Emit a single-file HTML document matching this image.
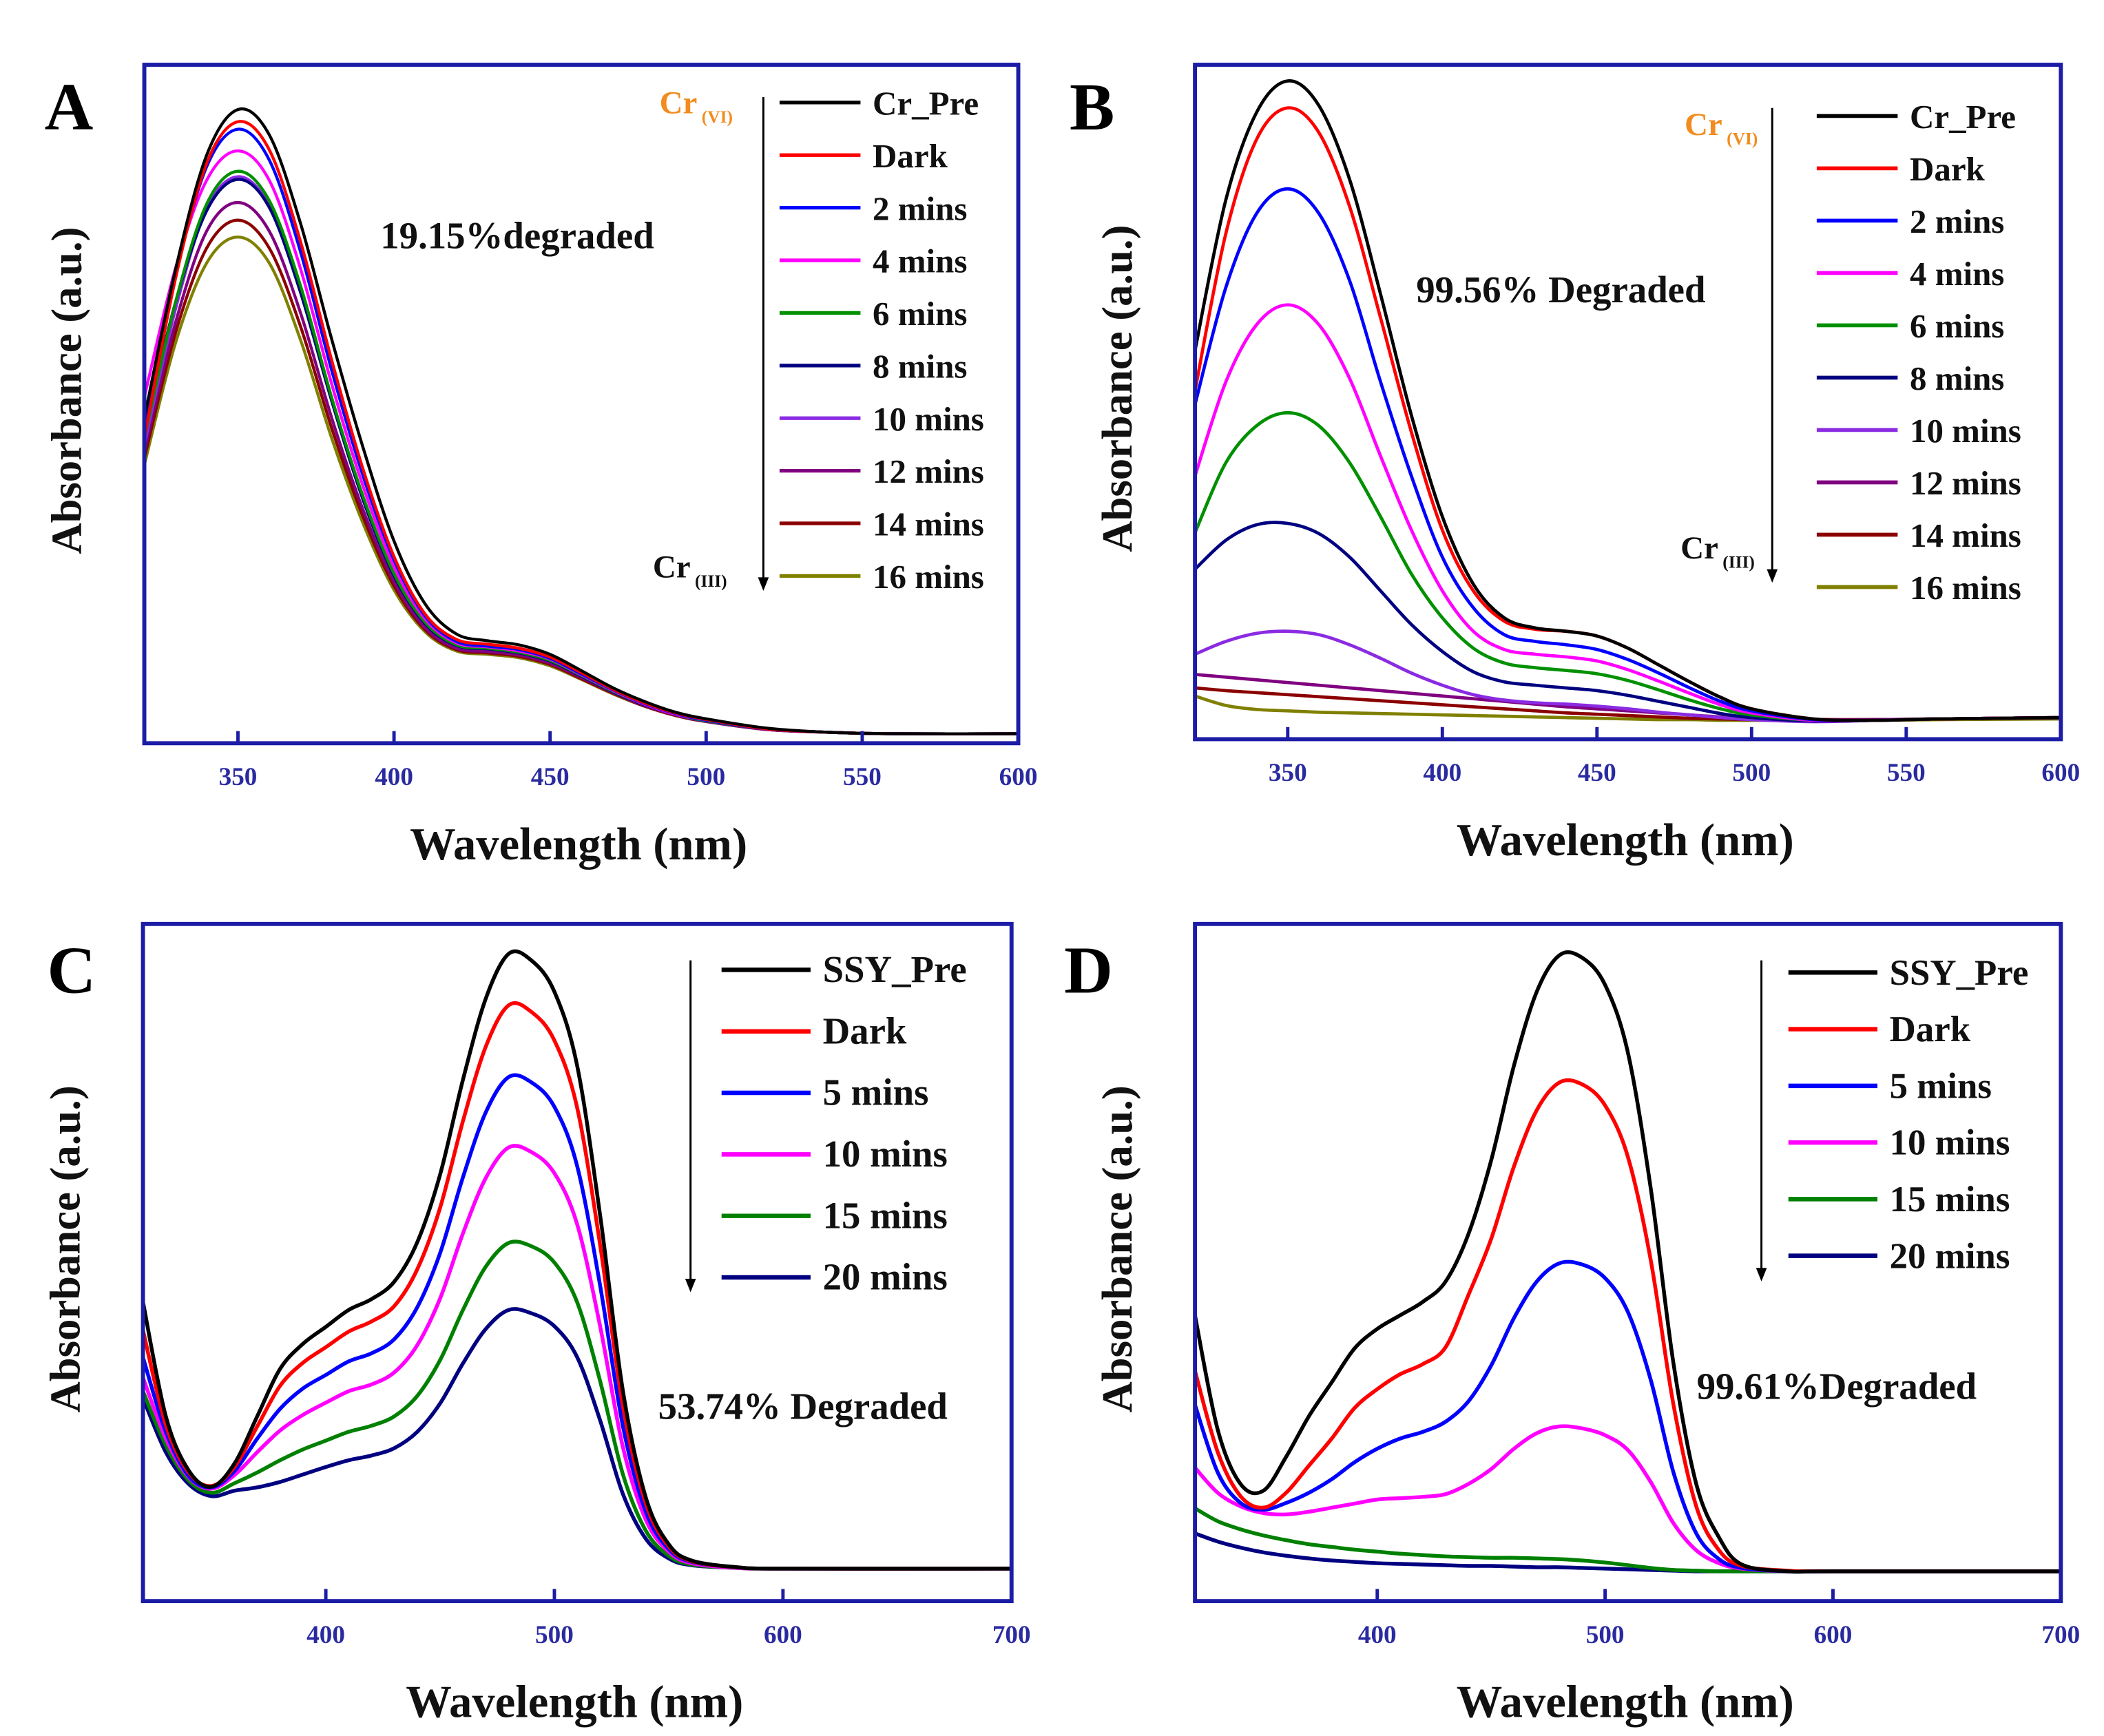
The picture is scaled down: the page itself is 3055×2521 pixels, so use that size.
<!DOCTYPE html>
<html><head><meta charset="utf-8"><style>
html,body{margin:0;padding:0;background:#fff;}
svg{display:block;}
text{font-family:"Liberation Serif",serif;font-weight:bold;}
</style></head><body>
<svg id="fig" width="3055" height="2521" viewBox="0 0 1560 1287" preserveAspectRatio="none" xmlns="http://www.w3.org/2000/svg">
<rect x="0" y="0" width="1560" height="1287" fill="#fff"/>
</svg>
<script>
// ---------- data ----------
const wlAB = [320,330,340,350,360,370,380,390,400,410,420,430,440,450,460,470,480,490,500,520,540,560,600];
const wlCD = [320,330,340,350,360,370,380,390,400,410,420,430,440,450,460,470,480,490,500,510,520,530,540,550,560,580,600,700];
const xTicksAB = [350,400,450,500,550,600];
const xTicksCD = [400,500,600,700];
const labelsAB = ["Cr_Pre","Dark","2 mins","4 mins","6 mins","8 mins","10 mins","12 mins","14 mins","16 mins"];
const labelsCD = ["SSY_Pre","Dark","5 mins","10 mins","15 mins","20 mins"];
const colorsAB = ["#000000","#ff0000","#0000ff","#ff00ff","#009000","#000080","#8a2be2","#800080","#8b0000","#808000"];
const colorsCD = ["#000000","#ff0000","#0000ff","#ff00ff","#008000","#000080"];

const seriesA = [
[47.9,69.8,86.7,93.4,89.7,76.7,59.6,43.7,29.8,20.5,16.1,15.1,14.5,13.1,10.7,8.2,6.2,4.6,3.6,2.2,1.6,1.4,1.4],
[45,68.5,85.5,91.6,87.5,74,56.5,40.5,27.5,19,15.3,14.6,14,12.7,10.4,8,6,4.5,3.5,2.1,1.6,1.4,1.4],
[47,69,85,90.5,86,72.5,55,39.5,27,18.7,15,14.3,13.8,12.5,10.2,7.9,5.9,4.4,3.4,2.1,1.6,1.4,1.4],
[51,70,83,87.3,83,70,53,38,26,18.3,14.8,14.2,13.6,12.4,10.1,7.8,5.8,4.3,3.4,2.1,1.6,1.4,1.4],
[45,65,79.5,84.3,80,67.5,51,36.5,25,17.8,14.5,14,13.4,12.2,10,7.7,5.8,4.3,3.3,2.1,1.6,1.4,1.4],
[46,65,78.5,83.1,79,66.5,50.5,36,24.7,17.6,14.4,13.9,13.3,12.1,9.9,7.6,5.7,4.3,3.3,2.1,1.6,1.4,1.4],
[44,64,78.8,83.5,79.3,66.8,50.6,36,24.7,17.6,14.4,13.9,13.4,12.2,10,7.7,5.8,4.3,3.3,2.1,1.6,1.4,1.4],
[43,62,75.5,79.7,75.5,63.5,48,34.5,23.8,17,14,13.5,13,11.8,9.7,7.5,5.6,4.2,3.2,2.0,1.6,1.4,1.4],
[42,60.5,73,77.1,73,61.5,46.5,33.5,23.2,16.7,13.8,13.3,12.8,11.6,9.5,7.4,5.5,4.1,3.2,2.0,1.6,1.4,1.4],
[41,59,70.8,74.6,70.8,59.5,45,32.5,22.6,16.4,13.6,13.1,12.6,11.4,9.4,7.3,5.5,4.1,3.2,2.0,1.6,1.4,1.4]
];
const seriesB = [
[57.6,80,93,97.6,94,83,66,48,33,23,18,16.5,16,15.3,13.5,11,8.5,6.2,4.5,3,2.8,3,3.2],
[51.6,75,89,93.6,90,79,62.5,45.5,31,22,17.5,16.3,16,15.3,13.5,11,8.5,6.2,4.5,3,2.8,3,3.2],
[49.6,67,78,81.6,78,68,53,39,27,19.5,15.5,14.5,14,13.3,11.8,9.8,7.6,5.6,4.2,2.9,2.8,3,3.2],
[39,53,61.5,64.4,61.5,53.5,42,31,22,16,13.3,12.6,12.2,11.6,10.3,8.6,6.8,5.1,3.9,2.8,2.8,3,3.2],
[30.6,41,46.5,48.4,46.5,41,33,24.5,18,13.5,11.3,10.6,10.2,9.7,8.7,7.3,5.8,4.5,3.6,2.8,2.8,3,3.2],
[25.2,29.5,31.8,32,30.5,27,22,17,13,10,8.5,8,7.6,7.2,6.5,5.6,4.7,3.8,3.2,2.7,2.8,3,3.2],
[12.6,14.5,15.7,16,15.5,14,12,9.8,8,6.6,5.8,5.4,5.2,4.9,4.5,4,3.6,3.2,2.9,2.6,2.8,3,3.2],
[9.6,9.2,8.8,8.4,8,7.6,7.2,6.8,6.4,6,5.6,5.2,4.8,4.5,4.2,3.9,3.6,3.3,3.1,2.9,2.9,3,3.2],
[7.6,7.2,6.9,6.6,6.3,6,5.7,5.4,5.1,4.8,4.5,4.2,3.9,3.7,3.5,3.3,3.1,3,2.9,2.9,2.9,3,3.2],
[6.4,5,4.4,4.2,4,3.9,3.8,3.7,3.6,3.5,3.4,3.3,3.2,3.1,3,2.9,2.9,2.8,2.8,2.8,2.8,2.9,3]
];
const seriesC = [
[44.2,27.3,19.3,16.9,20.3,27.3,34.3,38,40.5,43,44.6,47.2,53,63,77,89,95.6,94.6,90,79,57,31,15.3,8.4,6,5,4.8,4.8],
[40,26,19,17,19.8,25.8,31.8,35.2,37.5,39.8,41.3,43.6,49,58.1,70.9,81.9,88,87,82.8,72.8,52.6,28.8,14.4,8.1,5.9,5,4.8,4.8],
[36,25,18.5,16.8,19.2,24,28.4,31.4,33.4,35.4,36.6,38.7,43.4,51.4,62.6,72.2,77.4,76.6,73,64.2,46.6,25.8,13.2,7.7,5.8,5,4.8,4.8],
[33,24,18.3,16.6,18.6,22,25.2,27.5,29.3,31,32,33.8,37.8,44.7,54.3,62.5,67,66.3,63.2,55.6,40.6,22.7,12,7.3,5.6,4.9,4.8,4.8],
[31,23,17.8,16,17.4,19,20.8,22.4,23.7,25,25.9,27.3,30.3,35.6,43,49.4,52.9,52.4,50,44.1,32.5,18.7,10.4,6.7,5.4,4.9,4.8,4.8],
[30,22,17.3,15.5,16.3,16.8,17.6,18.7,19.8,20.8,21.5,22.6,25,29.2,35.1,40.2,43,42.5,40.6,36,26.7,15.8,9.2,6.3,5.3,4.9,4.8,4.8]
];
const seriesD = [
[42.2,25.3,17.3,16.3,21.3,27.3,32.3,37.3,40.2,42.2,44.2,47.2,54.2,65.1,79.1,90,95.4,95,91,81,61,35.1,17.3,9.4,5.4,4.4,4.4,4.4],
[34,22,15.5,13.8,16,20,24,28.5,31.3,33.5,35,37.5,45.2,53.5,64.2,72.5,76.6,76.3,73.2,65.6,50.4,29,14,7.5,5.2,4.5,4.4,4.4],
[29,19,14.5,13.5,14.5,16,18,20.5,22.5,24,25,26.5,29.5,34.8,41.8,47.2,49.9,49.7,47.7,42.7,32.7,19,10,6.2,4.9,4.4,4.4,4.4],
[19.7,16,14,13,12.8,13.2,13.8,14.4,15,15.2,15.4,15.8,17.3,19.5,22.5,24.8,25.8,25.5,24.5,22.3,17.6,11.5,7.5,5.6,4.8,4.4,4.4,4.4],
[13.7,11.8,10.6,9.7,9,8.4,8,7.6,7.3,7,6.8,6.6,6.5,6.4,6.4,6.3,6.2,6,5.7,5.3,4.9,4.6,4.5,4.4,4.4,4.4,4.4,4.4],
[10,8.8,7.9,7.2,6.7,6.3,6,5.8,5.6,5.5,5.4,5.3,5.2,5.2,5.1,5,5,4.9,4.8,4.7,4.6,4.5,4.4,4.4,4.4,4.4,4.4,4.4]
];

// ---------- drawing ----------
const NS = "http://www.w3.org/2000/svg";
const svg = document.getElementById('fig');
function mk(tag, attrs, parent){
  const e = document.createElementNS(NS, tag);
  for (const k in attrs) e.setAttribute(k, attrs[k]);
  (parent||svg).appendChild(e);
  return e;
}
function smoothPath(pts){
  let d = "M"+pts[0][0].toFixed(2)+","+pts[0][1].toFixed(2);
  for (let i=0;i<pts.length-1;i++){
    const p0=pts[Math.max(0,i-1)], p1=pts[i], p2=pts[i+1], p3=pts[Math.min(pts.length-1,i+2)];
    const c1x=p1[0]+(p2[0]-p0[0])/6, c1y=p1[1]+(p2[1]-p0[1])/6;
    const c2x=p2[0]-(p3[0]-p1[0])/6, c2y=p2[1]-(p3[1]-p1[1])/6;
    d+=" C"+c1x.toFixed(2)+","+c1y.toFixed(2)+" "+c2x.toFixed(2)+","+c2y.toFixed(2)+" "+p2[0].toFixed(2)+","+p2[1].toFixed(2);
  }
  return d;
}
function panel(cfg){
  const g = mk('g',{});
  
  
  const X = v => cfg.x0 + (v-cfg.xmin)/(cfg.xmax-cfg.xmin)*(cfg.x1-cfg.x0);
  const Y = v => cfg.y1 - v/100*(cfg.y1-cfg.y0);
  for (let s=cfg.series.length-1;s>=0;s--){
    const pts = cfg.wl.map((w,i)=>[X(w),Y(cfg.series[s][i])]);
    const p = mk('path',{d:smoothPath(pts),fill:'none',stroke:cfg.colors[s],'stroke-width':cfg.lw,'stroke-linejoin':'round'},g);
    
    
  }
  const fr = mk('rect',{x:cfg.x0,y:cfg.y0,width:cfg.x1-cfg.x0,height:cfg.y1-cfg.y0,fill:'none',stroke:'#1c1ca6','stroke-width':3},g);
  
  
  cfg.ticks.forEach(t=>{
    const tx = X(t);
    const tk = mk('line',{x1:tx,x2:tx,y1:cfg.y1,y2:cfg.y1-9,stroke:'#1c1ca6','stroke-width':2.5},g);
    
    
    const tl = mk('text',{x:tx,y:cfg.y1+31,'text-anchor':'middle','font-size':19,fill:'#2a2aa0'},g);
    tl.textContent = t;
    
    
  });
  const xt = mk('text',{x:(cfg.x0+cfg.x1)/2 - 2,y:cfg.y1+86,'text-anchor':'middle','font-size':34,fill:'#111'},g);
  xt.textContent = 'Wavelength (nm)';
  
  
  const yc = (cfg.y0+cfg.y1)/2 - 10;
  const yt = mk('text',{x:0,y:0,'text-anchor':'middle','font-size':32,fill:'#111',transform:'translate('+(cfg.x0-47)+','+yc+') rotate(-90)'},g);
  yt.textContent = 'Absorbance (a.u.)';
  
  
  const pl = mk('text',{x:cfg.lx,y:cfg.ly,'font-size':50,fill:'#000'},g);
  pl.textContent = cfg.id;
  
  
  cfg.labels.forEach((lab,i)=>{
    const ly = cfg.legY + i*cfg.legDy;
    const ll = mk('line',{x1:cfg.legX,x2:cfg.legX+cfg.legW,y1:ly,y2:ly,stroke:cfg.colors[i],'stroke-width':cfg.lw+0.5},g);
    
    
    const lt = mk('text',{x:cfg.legX+cfg.legW+9,y:ly+9,'font-size':cfg.legFs,fill:'#111'},g);
    lt.textContent = lab;
    
    
  });
  const ar = mk('line',{x1:cfg.arX,x2:cfg.arX,y1:cfg.arY0,y2:cfg.arY1-8,stroke:'#000','stroke-width':1.5},g);
  
  
  const ah = mk('polygon',{points:(cfg.arX-4)+','+(cfg.arY1-10)+' '+(cfg.arX+4)+','+(cfg.arY1-10)+' '+cfg.arX+','+cfg.arY1,fill:'#000'},g);
  
  
  const an = mk('text',{x:cfg.anX,y:cfg.anY,'font-size':28,fill:'#111'},g);
  an.textContent = cfg.ann;
  
  
  if (cfg.cr){
    const c1 = mk('text',{x:cfg.cr[0],y:cfg.cr[1],'font-size':24,fill:'#f28c1e'},g);
    c1.innerHTML = 'Cr<tspan font-size="13" dy="7"> (VI)</tspan>';
    
    
    const c2 = mk('text',{x:cfg.cr[2],y:cfg.cr[3],'font-size':24,fill:'#111'},g);
    c2.innerHTML = 'Cr<tspan font-size="13" dy="7"> (III)</tspan>';
    
    
  }
}
panel({id:'A',x0:107,x1:755,y0:48,y1:551,xmin:320,xmax:600,wl:wlAB,series:seriesA,colors:colorsAB,labels:labelsAB,ticks:xTicksAB,lw:2.2,
  lx:33,ly:96,legX:578,legW:60,legY:76,legDy:39,legFs:25,arX:566,arY0:72,arY1:438,anX:282,anY:184,ann:'19.15%degraded',cr:[489,84,484,428]});
panel({id:'B',x0:886,x1:1528,y0:48,y1:548,xmin:320,xmax:600,wl:wlAB,series:seriesB,colors:colorsAB,labels:labelsAB,ticks:xTicksAB,lw:2.4,
  lx:793,ly:96,legX:1347,legW:60,legY:86,legDy:38.8,legFs:25,arX:1314,arY0:80,arY1:432,anX:1050,anY:224,ann:'99.56% Degraded',cr:[1249,100,1246,414]});
panel({id:'C',x0:106,x1:750,y0:685,y1:1187,xmin:320,xmax:700,wl:wlCD,series:seriesC,colors:colorsCD,labels:labelsCD,ticks:xTicksCD,lw:2.8,
  lx:35,ly:736,legX:535,legW:66,legY:719,legDy:45.6,legFs:28,arX:512,arY0:712,arY1:958,anX:488,anY:1052,ann:'53.74% Degraded'});
panel({id:'D',x0:886,x1:1528,y0:685,y1:1187,xmin:320,xmax:700,wl:wlCD,series:seriesD,colors:colorsCD,labels:labelsCD,ticks:xTicksCD,lw:2.8,
  lx:789,ly:736,legX:1326,legW:66,legY:721,legDy:42,legFs:27,arX:1306,arY0:712,arY1:950,anX:1258,anY:1037,ann:'99.61%Degraded'});
</script>
</body></html>
